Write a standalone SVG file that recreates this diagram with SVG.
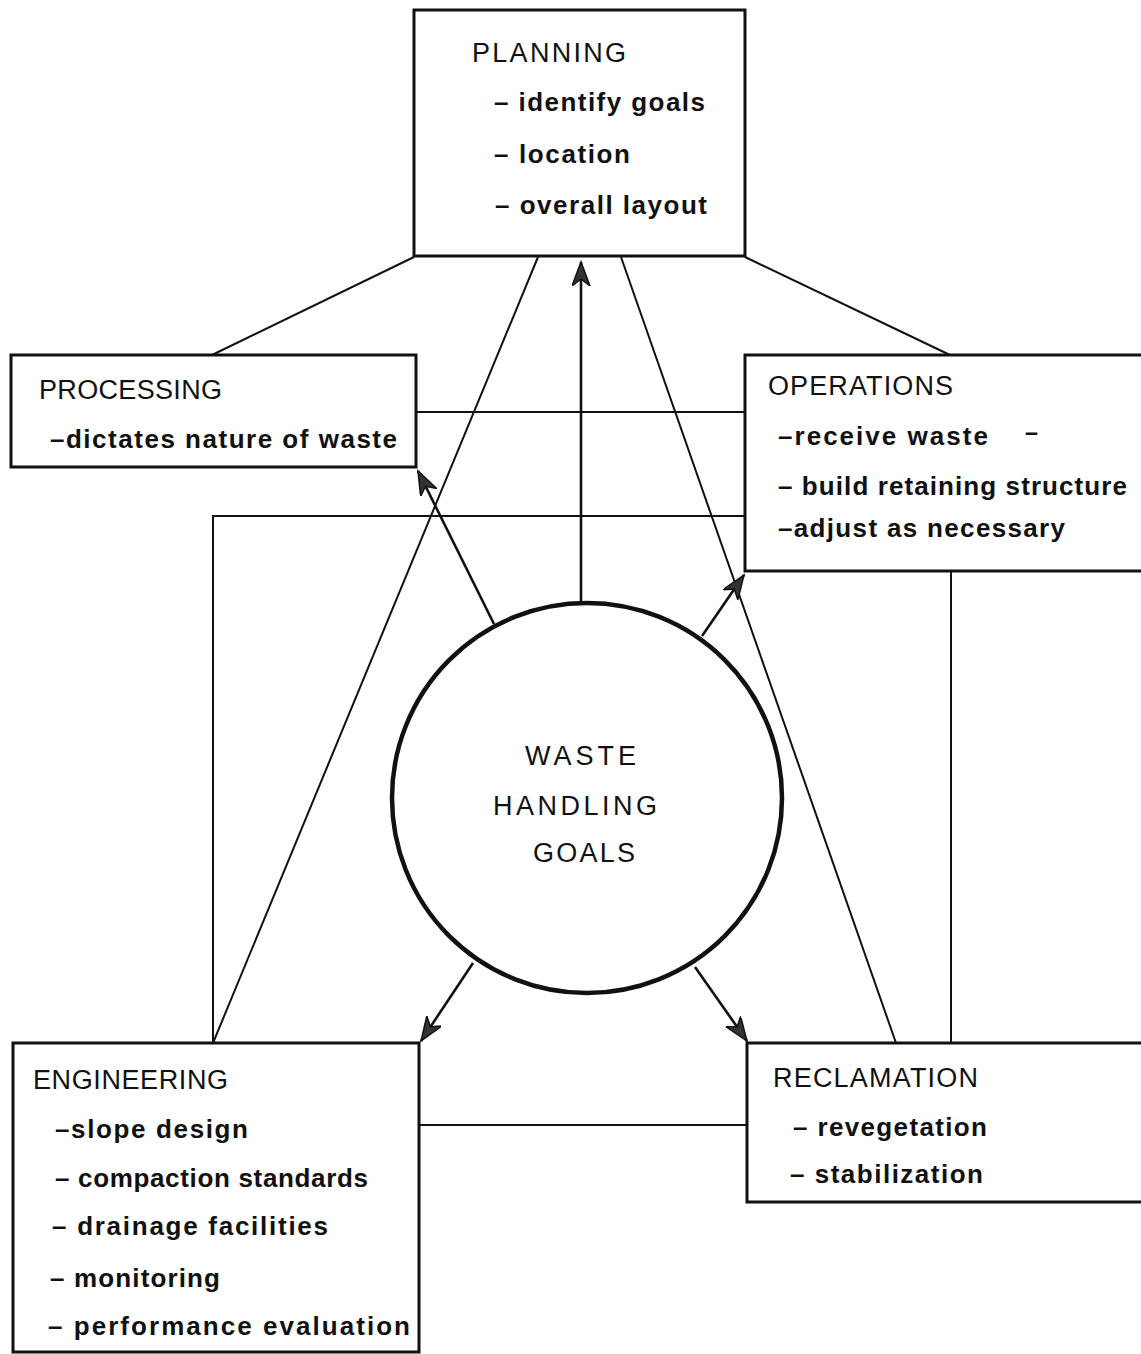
<svg xmlns="http://www.w3.org/2000/svg" width="1141" height="1354" viewBox="0 0 1141 1354">
<style>
.box{fill:none;stroke:#111;stroke-width:3}
.ln{fill:none;stroke:#111;stroke-width:2}
.arr{fill:none;stroke:#111;stroke-width:2.6}
.h{font-family:"Liberation Sans",Arial,sans-serif;font-size:27px;fill:#111}
.t{font-family:"Liberation Sans",Arial,sans-serif;font-size:26px;font-weight:bold;fill:#111}
</style>
<defs>
<marker id="ah" markerUnits="userSpaceOnUse" markerWidth="28" markerHeight="20" refX="24" refY="9" orient="auto" viewBox="0 0 28 20">
<path d="M0,0 L24,9 L0,18 L7,9 z" fill="#333" stroke="#111" stroke-width="1.5"/>
</marker>
</defs>
<rect width="1141" height="1354" fill="#fff"/>
<g id="connectors">
<line class="ln" x1="414" y1="257" x2="212" y2="355"/>
<line class="ln" x1="745" y1="257" x2="950" y2="355"/>
<line class="ln" x1="538" y1="257" x2="213" y2="1043"/>
<line class="ln" x1="621" y1="257" x2="896" y2="1043"/>
<line class="ln" x1="416" y1="412" x2="745" y2="412"/>
<polyline class="ln" points="745,516 213,516 213,1043"/>
<line class="ln" x1="951" y1="571" x2="951" y2="1043"/>
<line class="ln" x1="420" y1="1125" x2="747" y2="1125"/>
<line class="arr" x1="581" y1="603" x2="581" y2="262" marker-end="url(#ah)"/>
<line class="arr" x1="494" y1="624" x2="418" y2="471" marker-end="url(#ah)"/>
<line class="arr" x1="702" y1="636" x2="744" y2="575" marker-end="url(#ah)"/>
<line class="arr" x1="473" y1="963" x2="421" y2="1041" marker-end="url(#ah)"/>
<line class="arr" x1="695" y1="967" x2="747" y2="1041" marker-end="url(#ah)"/>
</g>
<g id="planning">
<rect class="box" x="414" y="10" width="331" height="246" fill="#fff"/>
<text class="h" x="472" y="62" textLength="154" lengthAdjust="spacing">PLANNING</text>
<text class="t" x="494" y="111" textLength="211" lengthAdjust="spacing">– identify goals</text>
<text class="t" x="494" y="163" textLength="136" lengthAdjust="spacing">– location</text>
<text class="t" x="495" y="214" textLength="212" lengthAdjust="spacing">– overall layout</text>
</g>
<g id="processing">
<rect class="box" x="11" y="355" width="405" height="112"/>
<text class="h" x="39" y="399" textLength="183" lengthAdjust="spacing">PROCESSING</text>
<text class="t" x="50" y="448" textLength="347" lengthAdjust="spacing">–dictates nature of waste</text>
</g>
<g id="operations">
<rect class="box" x="745" y="355" width="400" height="216"/>
<text class="h" x="768" y="395" textLength="185" lengthAdjust="spacing">OPERATIONS</text>
<text class="t" x="778" y="445" textLength="210" lengthAdjust="spacing">–receive waste</text>
<text class="t" x="1025" y="441" textLength="13" lengthAdjust="spacingAndGlyphs">–</text>
<text class="t" x="778" y="495" textLength="349" lengthAdjust="spacing">– build retaining structure</text>
<text class="t" x="778" y="537" textLength="287" lengthAdjust="spacing">–adjust as necessary</text>
</g>
<g id="goals">
<circle cx="587" cy="798" r="195" fill="#fff" stroke="#111" stroke-width="4.5"/>
<text class="h" x="525" y="765" textLength="111" lengthAdjust="spacing">WASTE</text>
<text class="h" x="493" y="815" textLength="164" lengthAdjust="spacing">HANDLING</text>
<text class="h" x="533" y="862" textLength="102" lengthAdjust="spacing">GOALS</text>
</g>
<g id="engineering">
<rect class="box" x="13" y="1043" width="406" height="309"/>
<text class="h" x="33" y="1089" textLength="195" lengthAdjust="spacing">ENGINEERING</text>
<text class="t" x="55" y="1138" textLength="193" lengthAdjust="spacing">–slope design</text>
<text class="t" x="55" y="1187" textLength="313" lengthAdjust="spacing">– compaction standards</text>
<text class="t" x="52" y="1235" textLength="276" lengthAdjust="spacing">– drainage facilities</text>
<text class="t" x="50" y="1287" textLength="170" lengthAdjust="spacing">– monitoring</text>
<text class="t" x="48" y="1335" textLength="362" lengthAdjust="spacing">– performance evaluation</text>
</g>
<g id="reclamation">
<rect class="box" x="747" y="1043" width="400" height="159"/>
<text class="h" x="773" y="1087" textLength="205" lengthAdjust="spacing">RECLAMATION</text>
<text class="t" x="793" y="1136" textLength="194" lengthAdjust="spacing">– revegetation</text>
<text class="t" x="790" y="1183" textLength="193" lengthAdjust="spacing">– stabilization</text>
</g>
</svg>
